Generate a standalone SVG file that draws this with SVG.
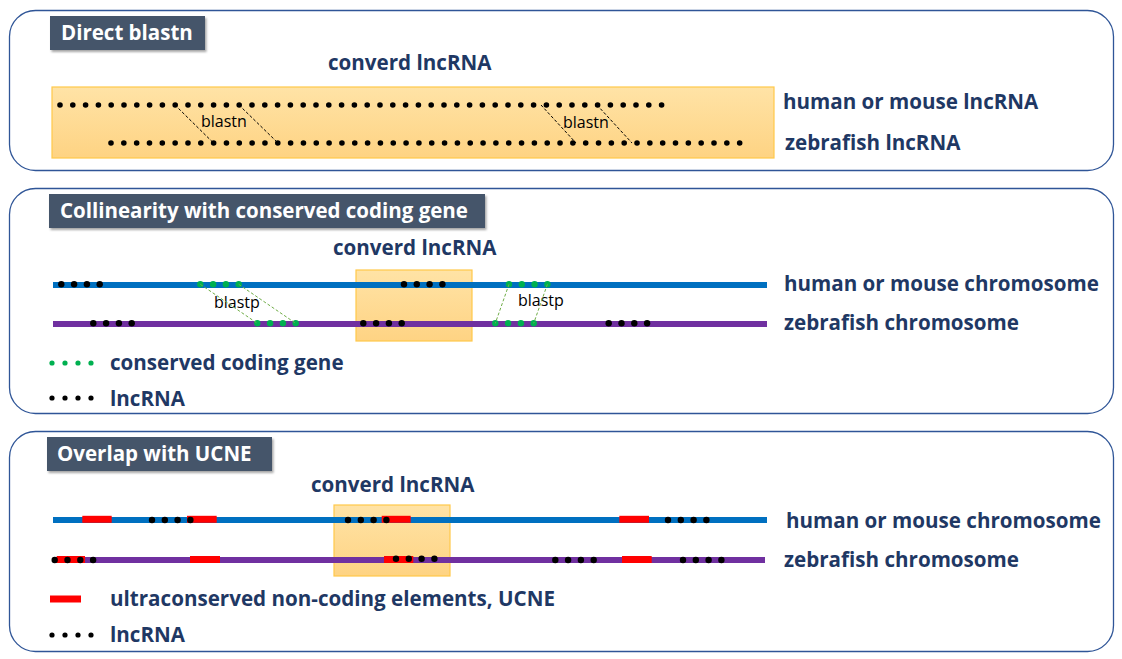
<svg xmlns="http://www.w3.org/2000/svg" xmlns:xlink="http://www.w3.org/1999/xlink" width="1122" height="659" viewBox="0 0 1122 659">
<defs>
<linearGradient id="og" x1="0" y1="0" x2="0" y2="1">
<stop offset="0" stop-color="#ffe3a6"/>
<stop offset="1" stop-color="#fed383"/>
</linearGradient>
<filter id="sh" x="-10%" y="-20%" width="120%" height="150%">
<feDropShadow dx="1.5" dy="2" stdDeviation="1.2" flood-color="#000" flood-opacity="0.35"/>
</filter>
<g id="q4"><circle cx="0" cy="0" r="3.2"/><circle cx="12.8" cy="0" r="3.2"/><circle cx="25.6" cy="0" r="3.2"/><circle cx="38.4" cy="0" r="3.2"/></g>
<g id="q4s"><circle cx="0" cy="0" r="2.6"/><circle cx="13" cy="0" r="2.6"/><circle cx="26" cy="0" r="2.6"/><circle cx="39" cy="0" r="2.6"/></g>
</defs>
<style>
.panel{fill:#fff;stroke:#2f5597;stroke-width:1.3}
.tbox{fill:#44546a;filter:url(#sh)}
.ttl{font-family:"Open Sans","Noto Sans",sans-serif;font-weight:bold;font-size:20.5px;fill:#fff}
.lbl{font-family:"Open Sans","Noto Sans",sans-serif;font-weight:bold;font-size:20.6px;fill:#1f3864}
.sm{font-family:"Open Sans","Noto Sans",sans-serif;font-size:16px;fill:#000}
.hl{fill:url(#og);stroke:#ffc84a;stroke-width:1.2}
.dots{stroke:#000;stroke-linecap:round;fill:none}
.d1{stroke-width:5.6;stroke-dasharray:0 12.8}
.k{fill:#000}
.g{fill:#00b050}
.blue{stroke:#0070c0;stroke-width:6}
.purp{stroke:#7030a0;stroke-width:6}
.red{stroke:#ff0000;stroke-width:7}
.cn{fill:none;stroke-width:1;stroke-dasharray:3 2}
</style>

<g id="panel-direct-blastn">
<rect class="panel" x="9.5" y="10.5" width="1104" height="160" rx="26"/>
<g id="title1"><rect class="tbox" x="50" y="16" width="155" height="34"/><text class="ttl" x="61" y="40">Direct blastn</text></g>
<g id="hl1"><rect class="hl" x="52" y="87" width="722" height="71"/></g>
<text class="lbl" x="328" y="70">converd lncRNA</text>
<g id="seq-human1"><line class="dots d1" x1="60" y1="105" x2="662" y2="105"/></g>
<g id="seq-zebra1"><line class="dots d1" x1="111" y1="143" x2="740" y2="143" style="stroke-dasharray:0 12.83"/></g>
<text class="sm" x="201" y="127">blastn</text>
<text class="sm" x="563" y="128">blastn</text>
<g id="lab-human1"><text class="lbl" x="783" y="109">human or mouse lncRNA</text></g>
<g id="lab-zebra1"><text class="lbl" x="785" y="150">zebrafish lncRNA</text></g>
</g>

<g id="panel-collinearity">
<rect class="panel" x="9.5" y="188.5" width="1104" height="225" rx="26"/>
<g id="title2"><rect class="tbox" x="49" y="194" width="436" height="34"/><text class="ttl" x="60" y="218">Collinearity with conserved coding gene</text></g>
<g id="hl2"><rect class="hl" x="356" y="270" width="116" height="71"/></g>
<text class="lbl" x="333" y="255">converd lncRNA</text>
<g id="chr-human2"><line class="blue" x1="53" y1="285" x2="767" y2="285"/>
<use xlink:href="#q4" class="k" x="61.3" y="284.3"/>
<use xlink:href="#q4" class="g" x="200.3" y="284.3"/>
<use xlink:href="#q4" class="k" x="404" y="284.3"/>
<use xlink:href="#q4" class="g" x="509" y="284.3"/></g>
<g id="chr-zebra2"><line class="purp" x1="53" y1="324" x2="767" y2="324"/>
<use xlink:href="#q4" class="k" x="93.3" y="323.3"/>
<use xlink:href="#q4" class="g" x="257.3" y="323.3"/>
<use xlink:href="#q4" class="k" x="363.3" y="323.3"/>
<use xlink:href="#q4" class="g" x="495.3" y="323.3"/>
<use xlink:href="#q4" class="k" x="608.7" y="323.3"/></g>
<text class="sm" x="214" y="308">blastp</text>
<text class="sm" x="518" y="306">blastp</text>
<g id="lab-human2"><text class="lbl" x="784" y="291">human or mouse chromosome</text></g>
<g id="lab-zebra2"><text class="lbl" x="784" y="330">zebrafish chromosome</text></g>
<g id="legend-gene"><use xlink:href="#q4s" class="g" x="52" y="363"/><text class="lbl" x="110" y="370">conserved coding gene</text></g>
<g id="legend-lnc2"><use xlink:href="#q4s" class="k" x="52" y="398"/><text class="lbl" x="110" y="406">lncRNA</text></g>
</g>

<g id="panel-ucne">
<rect class="panel" x="9.5" y="431.5" width="1104" height="220" rx="26"/>
<g id="title3"><rect class="tbox" x="47" y="437" width="225" height="34"/><text class="ttl" x="57" y="461">Overlap with UCNE</text></g>
<g id="hl3"><rect class="hl" x="334" y="505" width="116" height="71"/></g>
<text class="lbl" x="311" y="492">converd lncRNA</text>
<g id="chr-human3"><line class="blue" x1="53" y1="520" x2="767" y2="520"/>
<line class="red" x1="82.3" y1="519.3" x2="111.7" y2="519.3"/>
<line class="red" x1="187" y1="519.3" x2="216.7" y2="519.3"/>
<line class="red" x1="381.7" y1="519.3" x2="410.7" y2="519.3"/>
<line class="red" x1="619.3" y1="519.3" x2="649" y2="519.3"/>
<use xlink:href="#q4" class="k" x="152" y="520"/>
<use xlink:href="#q4" class="k" x="348" y="520"/>
<use xlink:href="#q4" class="k" x="668" y="520"/></g>
<g id="chr-zebra3"><line class="purp" x1="53" y1="560" x2="765" y2="560"/>
<line class="red" x1="56.7" y1="559.5" x2="85" y2="559.5"/>
<line class="red" x1="190" y1="559.5" x2="220" y2="559.5"/>
<line class="red" x1="384" y1="559.5" x2="413.3" y2="559.5"/>
<line class="red" x1="622" y1="559.5" x2="651.7" y2="559.5"/>
<use xlink:href="#q4" class="k" x="54.7" y="560"/>
<use xlink:href="#q4" class="k" x="396" y="558.7"/>
<use xlink:href="#q4" class="k" x="555.3" y="560"/>
<use xlink:href="#q4" class="k" x="683" y="560"/></g>
<g id="lab-human3"><text class="lbl" x="786" y="528">human or mouse chromosome</text></g>
<g id="lab-zebra3"><text class="lbl" x="784" y="567">zebrafish chromosome</text></g>
<g id="legend-ucne"><line class="red" x1="50" y1="599" x2="81" y2="599"/><text class="lbl" x="110" y="606">ultraconserved non-coding elements, UCNE</text></g>
<g id="legend-lnc3"><use xlink:href="#q4s" class="k" x="52" y="635"/><text class="lbl" x="110" y="642">lncRNA</text></g>
</g>

<g id="connectors">
<line class="cn" stroke="#000" x1="175" y1="105" x2="213.5" y2="143"/>
<line class="cn" stroke="#000" x1="239" y1="105" x2="278" y2="143"/>
<line class="cn" stroke="#000" x1="541" y1="105" x2="576" y2="143"/>
<line class="cn" stroke="#000" x1="597" y1="105" x2="632" y2="143"/>
<line class="cn" stroke="#70ad47" x1="200.3" y1="284.3" x2="257.3" y2="323.3"/>
<line class="cn" stroke="#70ad47" x1="238.7" y1="284.3" x2="295.7" y2="323.3"/>
<line class="cn" stroke="#70ad47" x1="509" y1="284.3" x2="495.3" y2="323.3"/>
<line class="cn" stroke="#70ad47" x1="547.4" y1="284.3" x2="533.7" y2="323.3"/>
</g>
</svg>
